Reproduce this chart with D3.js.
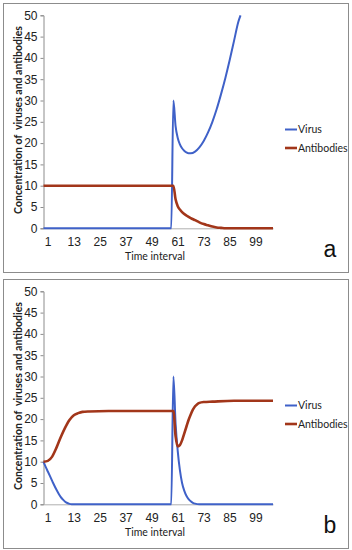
<!DOCTYPE html>
<html lang="en">
<head>
<meta charset="utf-8">
<title>Virus and antibodies</title>
<script src="https://d3js.org/d3.v7.min.js"></script>
<style>
  body { margin: 0; background: #fff; }
  svg { display: block; }
</style>
</head>
<body>
<div id="chart"></div>
<script>
// tick labels (category axis, one label every 12 intervals)
var tickVals = [1, 13, 25, 37, 49, 61, 73, 85, 97];
var tickLabels = ["1", "13", "25", "37", "49", "61", "73", "85", "99"];
var yTicks = [0, 5, 10, 15, 20, 25, 30, 35, 40, 45, 50];
var seriesNames = ["Virus", "Antibodies"];

// panel a
var virusA_t = [0, 59, 60, 61, 62, 63, 64, 65, 66, 67, 68, 70, 72, 74, 76, 78, 80, 82, 84, 86, 88, 90, 91];
var virusA   = [0, 0, 30, 24, 21.2, 19.7, 18.8, 18.2, 17.8, 17.6, 17.6, 18, 19, 20.5, 22.5, 25, 28, 31.5, 35.3, 39.5, 44, 48.5, 50];
var abA_t = [0, 60, 61, 62, 63, 64, 66, 68, 70, 72, 74, 76, 78, 80, 82, 84, 106];
var abA   = [10, 10, 6.8, 5.2, 4.4, 3.8, 3.0, 2.4, 1.9, 1.4, 1.0, 0.7, 0.4, 0.2, 0.1, 0, 0];

// panel b
var virusB_t = [0, 1, 2, 3, 4, 5, 6, 7, 8, 9, 10, 11, 12, 13, 59, 60, 61, 62, 63, 64, 65, 66, 67, 68, 69, 70, 72, 106];
var virusB   = [10, 8.8, 7.7, 6.6, 5.5, 4.4, 3.4, 2.5, 1.7, 1.1, 0.6, 0.3, 0.1, 0, 0, 30, 19, 12.5, 8, 5, 3.2, 2, 1.2, 0.7, 0.35, 0.15, 0, 0];
var abB_t = [0, 2, 4, 6, 8, 10, 12, 14, 16, 18, 21, 30, 60, 61, 62, 63, 64, 65, 66, 67, 68, 69, 70, 71, 72, 74, 78, 88, 106];
var abB   = [10, 10.2, 11.2, 13.3, 15.8, 18, 19.8, 20.9, 21.4, 21.7, 21.8, 21.9, 21.9, 16, 13.6, 13.9, 15, 16.6, 18.2, 19.8, 21.1, 22.2, 23, 23.5, 23.8, 24, 24.1, 24.3, 24.3];

var W = 352, H = 550;
var colors = { virus: "#3f61c8", ab: "#a2361a" };

var svg = d3.select("#chart").append("svg")
    .attr("width", W)
    .attr("height", H);

svg.append("rect").attr("width", W).attr("height", H).attr("fill", "#fff");

function drawPanel(top, vt, vv, at, av, letter) {
  var g = svg.append("g").attr("transform", "translate(0," + top + ")");

  // panel frame
  g.append("rect")
    .attr("x", 3.5).attr("y", 3.5)
    .attr("width", 345).attr("height", 269)
    .attr("fill", "none")
    .attr("stroke", "#8c8c8c")
    .attr("stroke-width", 1);

  var x = d3.scaleLinear().domain([0, 106]).range([43.5, 273]);
  var y = d3.scaleLinear().domain([0, 50]).range([228.3, 15.3]);

  // y axis
  var yAx = g.append("g")
    .attr("transform", "translate(43.5,0)")
    .call(d3.axisLeft(y).tickValues(yTicks).tickSize(3).tickPadding(3));
  yAx.select(".domain").attr("stroke", "#8c8c8c");
  yAx.selectAll(".tick line").attr("stroke", "#8c8c8c");
  yAx.selectAll("text")
    .attr("font-family", "'Liberation Sans', Arial, sans-serif")
    .attr("font-size", 12)
    .attr("fill", "#222");

  // x axis
  var xAx = g.append("g")
    .attr("transform", "translate(0," + y(0) + ")")
    .call(d3.axisBottom(x).tickValues(tickVals)
      .tickFormat(function(d, i) { return tickLabels[i]; })
      .tickSize(0).tickPadding(9));
  xAx.select(".domain").attr("stroke", "#b0b0b0");
  xAx.selectAll("text")
    .attr("dx", 2)
    .attr("font-family", "'Liberation Sans', Arial, sans-serif")
    .attr("font-size", 12)
    .attr("fill", "#222");

  var line = d3.line()
    .x(function(d) { return x(d[0]); })
    .y(function(d) { return y(d[1]); })
    .curve(d3.curveMonotoneX);

  g.append("path")
    .datum(d3.zip(vt, vv))
    .attr("d", line)
    .attr("fill", "none")
    .attr("stroke", colors.virus)
    .attr("stroke-width", 2);

  g.append("path")
    .datum(d3.zip(at, av))
    .attr("d", line)
    .attr("fill", "none")
    .attr("stroke", colors.ab)
    .attr("stroke-width", 2.6);

  // axis titles
  g.append("text")
    .attr("transform", "translate(22,120) rotate(-90)")
    .attr("text-anchor", "middle")
    .attr("font-family", "Lato, 'Open Sans', sans-serif")
    .attr("font-weight", "bold")
    .attr("font-size", 10.5)
    .attr("fill", "#222")
    .style("white-space", "pre")
    .text("Concentration of  viruses and antibodies");

  g.append("text")
    .attr("x", 155).attr("y", 260)
    .attr("text-anchor", "middle")
    .attr("font-family", "Lato, 'Open Sans', sans-serif")
    .attr("font-size", 10.5)
    .attr("fill", "#222")
    .text("Time interval");

  // legend
  var leg = g.selectAll(".leg").data(seriesNames).enter().append("g")
    .attr("transform", function(d, i) { return "translate(285," + (129.5 + i * 18.5) + ")"; });
  leg.append("line")
    .attr("x1", 0).attr("x2", 12)
    .attr("stroke", function(d, i) { return i === 0 ? colors.virus : colors.ab; })
    .attr("stroke-width", function(d, i) { return i === 0 ? 2 : 2.6; });
  leg.append("text")
    .attr("x", 13).attr("y", 3.8)
    .attr("font-family", "Lato, 'Open Sans', sans-serif")
    .attr("font-size", 10.5)
    .attr("fill", "#222")
    .text(function(d) { return d; });

  // panel letter
  g.append("text")
    .attr("x", 330).attr("y", 257)
    .attr("text-anchor", "middle")
    .attr("font-family", "'Liberation Sans', Arial, sans-serif")
    .attr("font-size", 23)
    .attr("fill", "#111")
    .text(letter);
}

drawPanel(0, virusA_t, virusA, abA_t, abA, "a");
drawPanel(276, virusB_t, virusB, abB_t, abB, "b");
</script>
</body>
</html>
